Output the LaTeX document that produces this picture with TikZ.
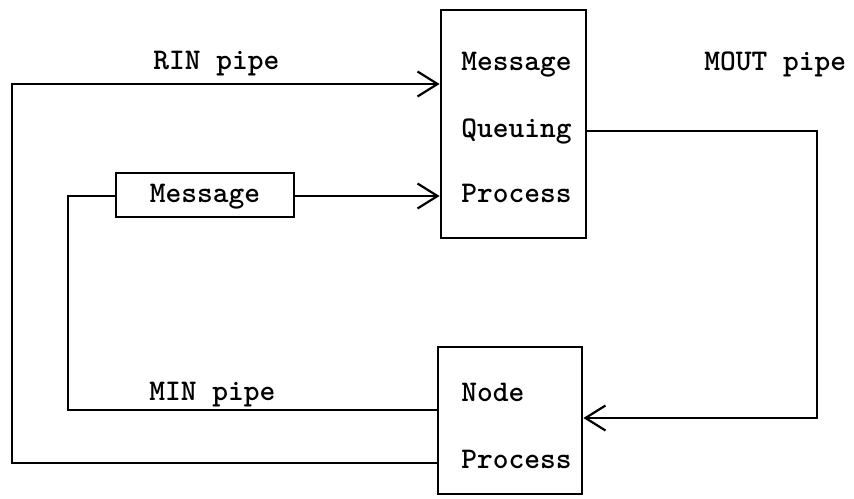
\documentclass[tikz,border=0pt]{standalone}
\usepackage{fontspec}
\usetikzlibrary{arrows.meta}
\begin{document}
\begin{tikzpicture}[x=1pt,y=-1pt,
  line width=2.8pt,
  box/.style={draw,line width=2.8pt,inner sep=0pt},
  lbl/.style={font=\ttfamily\bfseries\fontsize{30}{34}\selectfont,inner sep=0pt,anchor=base west},
  arr/.style={-{Straight Barb[length=20pt,width=25pt,line width=2.2pt]}},
  line join=miter]
  \useasboundingbox (0,0) rectangle (854,498);

  % process boxes
  \node[box,minimum width=145pt,minimum height=228pt] (mqp) at (513.5,124) {};
  \node[box,minimum width=144pt,minimum height=147pt] (np) at (510,420.5) {};
  \node[box,minimum width=178pt,minimum height=44pt] (msg) at (205,195) {};

  % texts
  \node[lbl] (t1) at (460,70) {Message};
  \node[lbl] (t2) at (460,137) {Queuing};
  \node[lbl] (t3) at (460,202) {Process};
  \node[lbl] (t4) at (460,401) {Node};
  \node[lbl] (t5) at (460,468) {Process};
  \node[lbl,anchor=base] (tm) at (205,202) {Message};
  \node[lbl] (rin) at (152,69) {RIN pipe};
  \node[lbl] (mout) at (703,70) {MOUT pipe};
  \node[lbl] (min) at (148,400) {MIN pipe};

  % corner points of the pipes
  \coordinate (rinL) at (12,84);
  \coordinate (rinB) at (12,463);
  \coordinate (minT) at (68,196);
  \coordinate (minB) at (68,410);
  \coordinate (moutT) at (817,131);
  \coordinate (moutB) at (817,418);

  % RIN pipe: from the node process round to the queuing process
  \draw[arr] (np.west |- rinB) -- (rinB) -- (rinL) -- (mqp.west |- rinL);
  % message into the queuing process
  \draw[arr] (msg.east |- minT) -- (mqp.west |- minT);
  % MIN pipe: node process to the message
  \draw (np.west |- minB) -- (minB) -- (minT) -- (msg.west |- minT);
  % MOUT pipe: queuing process to the node process
  \draw[arr] (mqp.east |- moutT) -- (moutT) -- (moutB) -- (np.east |- moutB);
\end{tikzpicture}
\end{document}
